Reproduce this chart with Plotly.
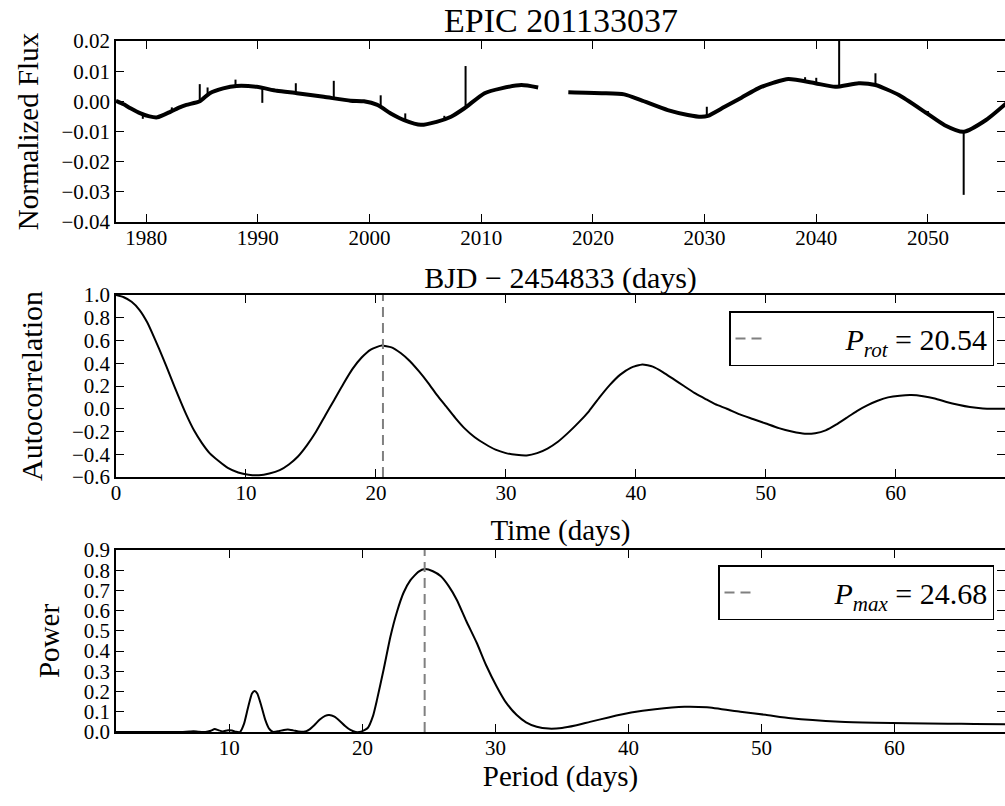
import plotly.graph_objects as go

FONT = "Liberation Serif"

# ---------------- data ----------------
TITLE = "EPIC 201133037"

# light curve (BJD - 2454833, normalized flux); None marks the data gap
lc_time = [1977.3, 1978.0, 1978.6, 1979.5, 1980.3, 1981.0, 1982.2, 1983.0, 1983.6, 1984.8,
           1985.7, 1986.9, 1988.1, 1989.9, 1991.7, 1993.5, 1995.9, 1998.3, 1999.5, 2000.7,
           2001.9, 2003.1, 2004.6, 2006.0, 2007.3, 2008.5, 2010.3, 2011.8, 2013.6, 2015.1,
           None,
           2017.8, 2020.8, 2022.8, 2024.3, 2026.7, 2028.5, 2029.7, 2030.3, 2031.8, 2033.3,
           2034.8, 2036.2, 2037.5, 2039.9, 2041.7, 2043.8, 2045.3, 2047.4, 2049.8, 2051.5,
           2053.2, 2055.2, 2057.0]
lc_flux = [0.0002, -0.0010, -0.0023, -0.0040, -0.0050, -0.0053, -0.0034, -0.0020, -0.0012, 0.0000,
           0.0027, 0.0043, 0.0051, 0.0048, 0.0035, 0.0027, 0.0015, 0.0002, 0.0000, -0.0012,
           -0.0040, -0.0062, -0.0078, -0.0068, -0.0051, -0.0023, 0.0027, 0.0043, 0.0054, 0.0046,
           None,
           0.0030, 0.0027, 0.0023, 0.0004, -0.0029, -0.0045, -0.0051, -0.0048, -0.0018, 0.0012,
           0.0043, 0.0062, 0.0074, 0.0060, 0.0048, 0.0060, 0.0054, 0.0021, -0.0037, -0.0079,
           -0.0101, -0.0062, -0.0007]

# outlier spikes: time, flux at the curve, flux at the spike tip
spike_time = [1979.7, 1982.3, 1984.8, 1985.5, 1988.0, 1990.4, 1993.4, 1996.8, 2001.0,
              2003.2, 2006.7, 2008.6, 2030.2, 2039.0, 2040.0, 2042.05, 2045.3, 2050.0, 2053.2]
spike_base = [-0.0045, -0.0034, 0.0000, 0.0020, 0.0050, 0.0045, 0.0028, 0.0012, -0.0015,
              -0.0064, -0.0058, -0.0020, -0.0048, 0.0066, 0.0060, 0.0050, 0.0054, -0.0045, -0.0101]
spike_tip = [-0.0058, -0.0020, 0.0057, 0.0046, 0.0072, -0.0005, 0.0060, 0.0068, 0.0020,
             -0.0040, -0.0048, 0.0117, -0.0018, 0.0080, 0.0078, 0.0250, 0.0093, -0.0032, -0.0310]

# autocorrelation function
acf_lag = [0.0, 0.6, 1.2, 1.8, 2.4, 3.0, 3.6, 4.2, 4.8, 5.4, 6.0, 6.6, 7.2, 7.9, 8.6, 9.4,
           10.2, 11.0, 11.8, 12.6, 13.3, 14.0, 14.7, 15.4, 16.1, 16.8, 17.5, 18.2, 18.9, 19.6,
           20.4, 21.2, 21.9, 22.6, 23.3, 24.0, 24.7, 25.4, 26.1, 26.8, 27.6, 28.4, 29.2, 30.0,
           30.8, 31.6, 32.4, 33.2, 34.0, 34.8, 35.6, 36.4, 37.2, 38.0, 38.8, 39.6, 40.5, 41.3,
           42.1, 42.9, 43.7, 44.5, 45.3, 46.1, 47.0, 48.0, 49.0, 50.0, 51.0, 52.0, 53.0, 53.8,
           54.6, 55.4, 56.2, 57.0, 57.8, 58.6, 59.4, 60.3, 61.2, 62.1, 63.0, 63.9, 64.8, 65.7,
           66.7, 67.5, 68.4]
acf_val = [1.0, 0.98, 0.94, 0.87, 0.76, 0.61, 0.45, 0.28, 0.11, -0.05, -0.19, -0.30, -0.39,
           -0.46, -0.52, -0.56, -0.58, -0.585, -0.57, -0.54, -0.49, -0.42, -0.32, -0.20, -0.06,
           0.08, 0.22, 0.35, 0.45, 0.52, 0.555, 0.54, 0.49, 0.42, 0.33, 0.23, 0.12, 0.02, -0.08,
           -0.17, -0.25, -0.31, -0.36, -0.39, -0.405, -0.41, -0.39, -0.35, -0.29, -0.21, -0.12,
           -0.02, 0.10, 0.21, 0.30, 0.36, 0.39, 0.37, 0.32, 0.26, 0.20, 0.14, 0.09, 0.04, 0.0,
           -0.05, -0.09, -0.13, -0.17, -0.20, -0.22, -0.215, -0.19, -0.14, -0.08, -0.02, 0.03,
           0.07, 0.10, 0.115, 0.12, 0.11, 0.09, 0.06, 0.035, 0.015, 0.003, 0.0, 0.0]

# periodogram
per_period = [1.48, 4.0, 6.5, 7.0, 7.3, 7.7, 8.2, 8.6, 8.9, 9.2, 9.5, 9.9, 10.2, 10.5, 10.8,
              11.1, 11.4, 11.7, 11.9, 12.1, 12.4, 12.7, 13.0, 13.3, 13.7, 14.1, 14.4, 14.8,
              15.2, 15.6, 16.0, 16.4, 16.8, 17.2, 17.5, 17.9, 18.3, 18.7, 19.1, 19.5, 19.9,
              20.4, 20.8, 21.1, 21.6, 22.1, 22.6, 23.1, 23.6, 24.2, 24.7, 25.3, 25.9, 26.5,
              27.1, 27.8, 28.6, 29.3, 30.1, 30.8, 31.6, 32.3, 33.1, 34.0, 35.0, 36.0, 37.1,
              38.5, 40.2, 42.0, 44.2, 45.9, 48.4, 50.3, 52.2, 55.9, 58.5, 61.0, 64.0, 66.0, 68.3]
per_power = [0.0, 0.0, 0.0, 0.002, 0.004, 0.001, 0.0, 0.006, 0.015, 0.008, 0.003, 0.009,
             0.007, 0.001, 0.0, 0.04, 0.12, 0.19, 0.203, 0.19, 0.13, 0.06, 0.015, 0.0, 0.004,
             0.01, 0.012, 0.008, 0.003, 0.001, 0.012, 0.035, 0.062, 0.08, 0.084, 0.076, 0.055,
             0.03, 0.01, 0.0, 0.002, 0.02, 0.08, 0.16, 0.31, 0.47, 0.595, 0.69, 0.75, 0.792,
             0.806, 0.795, 0.77, 0.72, 0.653, 0.55, 0.44, 0.33, 0.224, 0.145, 0.084, 0.048,
             0.026, 0.017, 0.02, 0.032, 0.05, 0.072, 0.096, 0.113, 0.125, 0.122, 0.10, 0.085,
             0.068, 0.051, 0.046, 0.043, 0.041, 0.04, 0.038]

P_ROT = 20.54
P_MAX = 24.68

LC_XRANGE = [1977.3, 2056.9]
LC_YRANGE = [-0.04, 0.02]
ACF_XRANGE = [0.0, 68.4]
ACF_YRANGE = [-0.6, 1.0]
PER_XRANGE = [1.48, 68.3]
PER_YRANGE = [0.0, 0.9]

# ---------------- figure ----------------
W, H = 1005, 806
fig = go.Figure()

fig.add_trace(go.Scatter(x=lc_time, y=lc_flux, mode="lines", connectgaps=False,
                         line=dict(color="black", width=4, shape="spline", smoothing=0.6),
                         showlegend=False, xaxis="x", yaxis="y"))
sx, sy = [], []
for t, b, p in zip(spike_time, spike_base, spike_tip):
    sx += [t, t, None]
    sy += [b, p, None]
fig.add_trace(go.Scatter(x=sx, y=sy, mode="lines", line=dict(color="black", width=2),
                         showlegend=False, xaxis="x", yaxis="y"))

GAP = "&nbsp;" * 10
fig.add_trace(go.Scatter(x=acf_lag, y=acf_val, mode="lines",
                         line=dict(color="black", width=2, shape="spline", smoothing=0.5),
                         showlegend=False, xaxis="x2", yaxis="y2"))
fig.add_trace(go.Scatter(x=[P_ROT, P_ROT], y=ACF_YRANGE, mode="lines",
                         line=dict(color="#808080", width=2, dash="10px,6px"),
                         name=GAP + "<i>P</i><sub><i>rot</i></sub> = %.2f" % P_ROT,
                         legend="legend", xaxis="x2", yaxis="y2"))

fig.add_trace(go.Scatter(x=per_period, y=per_power, mode="lines",
                         line=dict(color="black", width=2, shape="spline", smoothing=0.5),
                         showlegend=False, xaxis="x3", yaxis="y3"))
fig.add_trace(go.Scatter(x=[P_MAX, P_MAX], y=PER_YRANGE, mode="lines",
                         line=dict(color="#808080", width=2, dash="10px,6px"),
                         name=GAP + "<i>P</i><sub><i>max</i></sub> = %.2f" % P_MAX,
                         legend="legend2", xaxis="x3", yaxis="y3"))

def py(top, bottom):
    return [1 - bottom / H, 1 - top / H]

xdom = [116 / W, 1.0]
tickfont = dict(family=FONT, size=21, color="black")

def tfont(size):
    return dict(family=FONT, size=size, color="black")

def axis(**kw):
    d = dict(showline=True, linecolor="black", linewidth=1.5, mirror="ticks",
             ticks="inside", ticklen=8, tickwidth=1, tickcolor="black",
             showgrid=False, zeroline=False, tickfont=tickfont, automargin=False,
             ticklabelstandoff=-4)
    d.update(kw)
    return d

fig.update_layout(
    width=W, height=H,
    margin=dict(l=0, r=0, t=0, b=0),
    paper_bgcolor="white", plot_bgcolor="white",
    font=dict(family=FONT, color="black"),
    title=dict(text=TITLE, x=561 / W, xanchor="center", y=1 - 20 / H, yanchor="middle",
               font=tfont(34)),
    xaxis=axis(domain=xdom, anchor="y", range=LC_XRANGE, dtick=10,
               title=dict(text="BJD − 2454833 (days)", font=tfont(30), standoff=18)),
    yaxis=axis(domain=py(41, 222), anchor="x", range=LC_YRANGE, dtick=0.01, tickformat=".2f",
               ticklabelstandoff=0,
               title=dict(text="Normalized Flux", font=tfont(29), standoff=14)),
    xaxis2=axis(domain=xdom, anchor="y2", range=ACF_XRANGE, dtick=10,
                title=dict(text="Time (days)", font=tfont(29), standoff=16)),
    yaxis2=axis(domain=py(295, 477), anchor="x2", range=ACF_YRANGE, dtick=0.2, tickformat=".1f",
                ticklabelstandoff=0,
                title=dict(text="Autocorrelation", font=tfont(30), standoff=20)),
    xaxis3=axis(domain=xdom, anchor="y3", range=PER_XRANGE, dtick=10, tick0=0,
                title=dict(text="Period (days)", font=tfont(29), standoff=7)),
    yaxis3=axis(domain=py(550, 732), anchor="x3", range=PER_YRANGE, dtick=0.1, tickformat=".1f",
                ticklabelstandoff=0,
                title=dict(text="Power", font=tfont(29), standoff=16)),
    legend=dict(x=994 / W, xanchor="right", y=1 - 311 / H, yanchor="top",
                bgcolor="white", bordercolor="black", borderwidth=1.5,
                font=tfont(30)),
    legend2=dict(x=994 / W, xanchor="right", y=1 - 565 / H, yanchor="top",
                 bgcolor="white", bordercolor="black", borderwidth=1.5,
                 font=tfont(30)),
)

fig.write_html("out.html", config={"displayModeBar": False},
               post_script="document.body.style.margin='0px';")
